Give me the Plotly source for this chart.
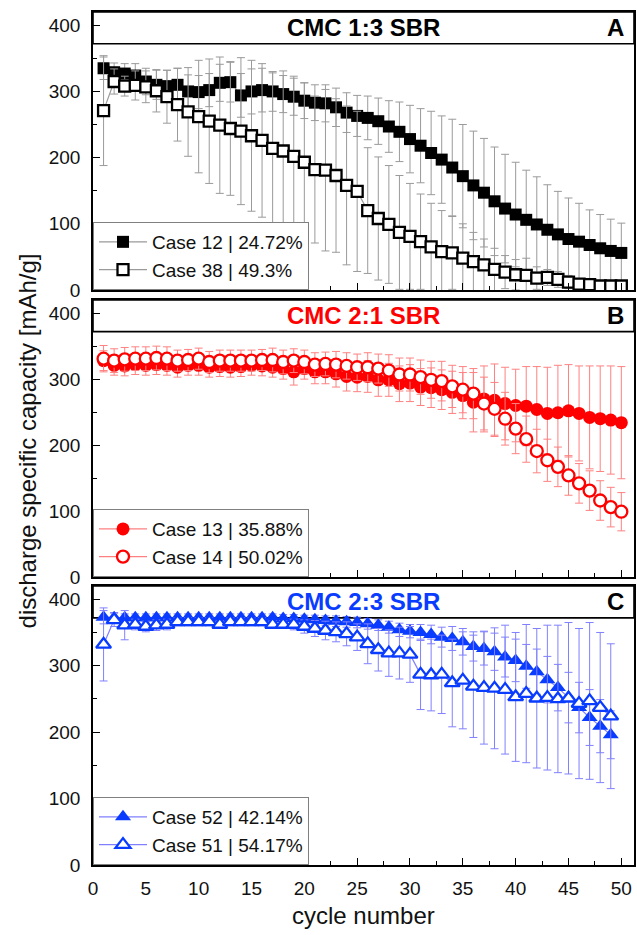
import plotly.graph_objects as go
from plotly.subplots import make_subplots

# ---------------- data ----------------
cycles50 = list(range(1, 51))
cycles49 = list(range(1, 50))

case12 = [335, 329, 327, 324, 315, 310, 308, 310, 300, 299, 302, 313, 314, 294, 300, 302, 300, 296, 292, 286,
          283, 282, 276, 268, 263, 260, 255, 247, 239, 228, 218, 207, 197, 185, 172, 158, 147, 134, 123, 114,
          106, 99, 91, 84, 77, 73, 68, 63, 59, 56]
case12_err = [17, 14, 15, 18, 20, 22, 24, 25, 25, 25, 25, 28, 30, 33, 34, 33, 30, 28, 28, 27,
              27, 28, 29, 30, 31, 33, 35, 39, 45, 51, 56, 63, 66, 73, 78, 82, 82, 82, 82, 79,
              75, 72, 68, 65, 62, 58, 53, 51, 48, 45]
case38 = [271, 315, 308, 309, 307, 301, 292, 280, 269, 262, 255, 249, 244, 240, 233, 226, 214, 210, 202, 193,
          182, 181, 173, 158, 149, 120, 108, 99, 87, 81, 73, 65, 58, 56, 48, 43, 38, 31, 27, 23,
          22, 18, 19, 16, 12, 9, 8, 6, 6, 6]
case38_err = [83, 19, 15, 22, 24, 32, 40, 55, 67, 85, 94, 103, 101, 111, 114, 116, 114, 121, 121, 120,
              111, 122, 116, 120, 121, 95, 93, 89, 86, 80, 72, 66, 62, 55, 52, 44, 39, 32, 25, 23,
              26, 17, 12, 12, 10, 8, 6, 5, 5, 4]

case13 = [328, 321, 320, 322, 321, 322, 321, 318, 321, 321, 318, 319, 318, 319, 321, 320, 318, 316, 311, 316,
          311, 311, 308, 304, 303, 304, 299, 299, 293, 294, 288, 287, 284, 280, 275, 265, 270, 268, 263, 260,
          259, 254, 248, 249, 252, 248, 242, 240, 238, 234]
case13_err = [15, 15, 15, 15, 15, 15, 15, 15, 15, 15, 15, 15, 15, 15, 15, 15, 15, 16, 20, 16,
              18, 18, 20, 22, 22, 24, 25, 25, 27, 28, 28, 30, 30, 32, 35, 45, 50, 55, 55, 55,
              60, 65, 70, 72, 70, 72, 78, 80, 82, 85]
case14 = [331, 328, 330, 331, 331, 332, 331, 328, 329, 331, 326, 328, 328, 328, 328, 329, 329, 326, 328, 326,
          322, 323, 322, 320, 318, 318, 316, 313, 307, 307, 303, 299, 297, 289, 284, 278, 263, 255, 240, 225,
          209, 191, 177, 167, 154, 142, 131, 116, 106, 99]
case14_err = [20, 18, 18, 18, 18, 18, 18, 16, 16, 16, 16, 16, 16, 16, 16, 16, 18, 18, 18, 18,
              18, 18, 20, 20, 20, 22, 22, 24, 25, 25, 26, 28, 30, 32, 35, 38, 40, 40, 40, 38,
              35, 33, 32, 30, 30, 30, 30, 30, 30, 29]

case52 = [373, 372, 372, 372, 372, 372, 372, 372, 372, 372, 372, 372, 372, 372, 372, 372, 372, 371, 371, 370,
          369, 368, 367, 366, 365, 363, 361, 358, 354, 352, 350, 347, 343, 341, 336, 329, 326, 321, 313, 308,
          299, 291, 279, 267, 252, 237, 222, 209, 196]
case52_err = [10, 8, 6, 6, 6, 6, 6, 6, 6, 6, 6, 6, 6, 6, 6, 6, 6, 6, 6, 6,
              7, 7, 8, 8, 8, 8, 8, 9, 10, 10, 12, 14, 15, 18, 20, 22, 25, 28, 30, 32,
              33, 34, 35, 35, 38, 38, 42, 40, 36]
case51 = [332, 369, 361, 362, 359, 361, 362, 366, 366, 366, 366, 362, 366, 366, 366, 366, 362, 362, 362, 359,
          356, 353, 351, 348, 343, 333, 324, 319, 319, 317, 287, 286, 287, 274, 278, 269, 267, 266, 264, 253,
          258, 251, 252, 250, 251, 243, 247, 237, 224]
case51_err = [55, 10, 22, 8, 8, 8, 8, 6, 6, 6, 6, 6, 6, 6, 6, 6, 6, 6, 8, 10,
              12, 14, 15, 18, 20, 30, 32, 35, 39, 42, 53, 54, 59, 66, 73, 77, 85, 91, 97, 97,
              104, 105, 109, 111, 114, 113, 118, 113, 109]

panel_titles = ["CMC 1:3 SBR", "CMC 2:1 SBR", "CMC 2:3 SBR"]
panel_letters = ["A", "B", "C"]
x_ticks = [0, 5, 10, 15, 20, 25, 30, 35, 40, 45, 50]
y_ticks = [0, 100, 200, 300, 400]

# ---------------- style ----------------
FONT = "Liberation Sans, Arial, Helvetica, sans-serif"
BLACK = "#000000"
RED = "#ff0000"
BLUE = "#0a3cff"
title_colors = [BLACK, RED, BLUE]
err_colors = ["#9a9a9a", "#ff8080", "#8080ff"]

YMAX = 420
HEAD = 372

fig = make_subplots(rows=3, cols=1, shared_xaxes=False)

def add(row, x, y, err, name, symbol, color, filled, size, legend, ecol):
    fig.add_trace(go.Scatter(
        x=x, y=y, name=name, mode="lines+markers",
        line=dict(color=ecol, width=1.2),
        marker=dict(symbol=symbol, size=size,
                    color=color if filled else "white",
                    line=dict(color=color, width=0 if filled else 2.3)),
        error_y=dict(type="data", array=err, visible=True, color=ecol, thickness=1, width=4),
        legend=legend,
    ), row=row, col=1)

add(1, cycles50, case12, case12_err, "Case 12 | 24.72%", "square", BLACK, True, 12, "legend", err_colors[0])
add(1, cycles50, case38, case38_err, "Case 38 | 49.3%", "square", BLACK, False, 11, "legend", err_colors[0])
add(2, cycles50, case13, case13_err, "Case 13 | 35.88%", "circle", RED, True, 13, "legend2", err_colors[1])
add(2, cycles50, case14, case14_err, "Case 14 | 50.02%", "circle", RED, False, 12, "legend2", err_colors[1])
add(3, cycles49, case52, case52_err, "Case 52 | 42.14%", "triangle-up", BLUE, True, 14, "legend3", err_colors[2])
add(3, cycles49, case51, case51_err, "Case 51 | 54.17%", "triangle-up", BLUE, False, 13, "legend3", err_colors[2])

# figure geometry (plot area from y=12 to y=865 px)
domains = [[0.6741, 1.0], [0.3376, 0.6624], [0.0, 0.3271]]

axis_common = dict(showline=True, linecolor=BLACK, linewidth=1.6, mirror=True,
                   ticks="inside", tickcolor=BLACK, tickwidth=1.4, ticklen=7,
                   showgrid=False, zeroline=False)

for i in range(3):
    xa = "xaxis" if i == 0 else f"xaxis{i+1}"
    ya = "yaxis" if i == 0 else f"yaxis{i+1}"
    fig.layout[xa].update(
        **axis_common, range=[0, 51.2], tickvals=x_ticks,
        minor=dict(ticks="inside", ticklen=4, tickwidth=1.2, tickcolor=BLACK, dtick=2.5, tick0=0),
        showticklabels=(i == 2), tickfont=dict(size=19, color="#111", family=FONT),
        ticklabelstandoff=5,
        domain=[0, 1],
    )
    fig.layout[ya].update(
        **axis_common, range=[0, YMAX], tickvals=y_ticks,
        minor=dict(ticks="inside", ticklen=4, tickwidth=1.2, tickcolor=BLACK, dtick=50, tick0=0),
        tickfont=dict(size=19, color="#111", family=FONT), ticklabelstandoff=7,
        domain=domains[i],
    )
    xref = "x" if i == 0 else f"x{i+1}"
    yref = "y" if i == 0 else f"y{i+1}"
    # header band
    fig.add_shape(type="rect", xref=f"{xref} domain", yref=yref, x0=0, x1=1, y0=HEAD, y1=YMAX,
                  line=dict(color=BLACK, width=1.6), fillcolor="white", layer="below")
    fig.add_annotation(xref=f"{xref} domain", yref=yref, x=0.5, y=(HEAD + YMAX) / 2,
                       text=f"<b>{panel_titles[i]}</b>", showarrow=False,
                       font=dict(size=24, color=title_colors[i], family=FONT))
    fig.add_annotation(xref=f"{xref} domain", yref=yref, x=0.985, y=(HEAD + YMAX) / 2,
                       xanchor="right", text=f"<b>{panel_letters[i]}</b>", showarrow=False,
                       font=dict(size=24, color=BLACK, family=FONT))

legend_style = dict(xanchor="left", yanchor="bottom", x=0, bgcolor="white",
                    bordercolor="#808080", borderwidth=1, itemwidth=48,
                    font=dict(size=19, color="#111", family=FONT), tracegroupgap=0)
fig.update_layout(
    legend=dict(**legend_style, y=domains[0][0]),
    legend2=dict(**legend_style, y=domains[1][0]),
    legend3=dict(**legend_style, y=domains[2][0]),
)

# axis titles
fig.add_annotation(xref="paper", yref="paper", x=-0.15, y=0.497, textangle=-90,
                   text="discharge specific capacity [mAh/g]", showarrow=False,
                   font=dict(size=24, color="#111", family=FONT))
fig.add_annotation(xref="paper", yref="paper", x=0.5, y=-0.059, yanchor="middle",
                   text="cycle number", showarrow=False,
                   font=dict(size=24, color="#111", family=FONT))

fig.update_layout(
    width=637, height=935,
    margin=dict(l=93, r=1, t=12, b=70),
    paper_bgcolor="white", plot_bgcolor="white",
    font=dict(family=FONT, color="#111"),
    showlegend=True,
)

fig.write_html("out.html")
